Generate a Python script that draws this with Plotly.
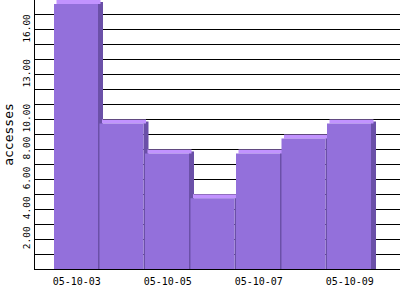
import plotly.graph_objects as go

# ---- data ----
dates = ["05-10-03", "05-10-04", "05-10-05", "05-10-06", "05-10-07", "05-10-08", "05-10-09"]
accesses = [18, 10, 8, 5, 8, 9, 10]
x_tick_labels = ["05-10-03", "05-10-05", "05-10-07", "05-10-09"]
y_tick_vals = [2, 4, 6, 8, 10, 13, 16]
y_tick_text = ["2.00", "4.00", "6.00", "8.00", "10.00", "13.00", "16.00"]

# ---- style ----
FRONT = "#9370DB"
TOP = "#C293FF"
SIDE = "#6B50A8"
FONT = "DejaVu Sans Mono"

Y_MAX = 18
PLOT_H = 269
PITCH_PX = 45.5
UNIT_PX = PLOT_H / Y_MAX
DX = 5 / PITCH_PX      # depth in category units
DY = 4 / UNIT_PX       # depth in value units
FW = 44 / PITCH_PX     # front face width

n = len(accesses)
fig = go.Figure()

# side faces
fig.add_trace(go.Bar(
    x=dates, y=accesses, base=[-DY / 2] * n,
    offset=-0.5 + FW, width=DX,
    marker=dict(color=SIDE, line=dict(width=0)),
    cliponaxis=False, hoverinfo="skip", showlegend=False))
# top faces
fig.add_trace(go.Bar(
    x=dates, y=[DY] * n, base=[v - DY for v in accesses],
    offset=-0.5 + DX / 2, width=FW,
    marker=dict(color=TOP, line=dict(width=0)),
    cliponaxis=False, hoverinfo="skip", showlegend=False))
# front faces
fig.add_trace(go.Bar(
    x=dates, y=accesses, base=[-DY] * n,
    offset=-0.5, width=FW,
    marker=dict(color=FRONT, line=dict(width=0)),
    cliponaxis=False, showlegend=False))

x0 = -0.5 - 19 / PITCH_PX
x1 = x0 + 365 / PITCH_PX

fig.update_layout(
    width=400, height=300,
    margin=dict(l=35, r=0, t=0, b=31),
    paper_bgcolor="white", plot_bgcolor="white",
    barmode="overlay",
    showlegend=False,
    xaxis=dict(
        type="category", range=[x0, x1],
        tickvals=x_tick_labels, ticktext=x_tick_labels,
        showgrid=False, zeroline=False,
        showline=True, linecolor="black", linewidth=1,
        ticks="", layer="below traces",
        tickfont=dict(family=FONT, size=10, color="black"),
        ticklabelstandoff=3,
        automargin=False,
    ),
    yaxis=dict(
        range=[0, Y_MAX],
        tickvals=y_tick_vals, ticktext=y_tick_text,
        tickangle=-90,
        showgrid=True, gridcolor="black", gridwidth=1,
        minor=dict(dtick=1, tick0=0, showgrid=True, gridcolor="black", gridwidth=1),
        zeroline=False,
        showline=True, linecolor="black", linewidth=1,
        ticks="", layer="below traces",
        tickfont=dict(family=FONT, size=9.5, color="black"),
        ticklabelstandoff=0,
        title=dict(text="accesses", font=dict(family=FONT, size=13, color="black"), standoff=4),
        automargin=False,
    ),
)

fig.write_html("out.html")
